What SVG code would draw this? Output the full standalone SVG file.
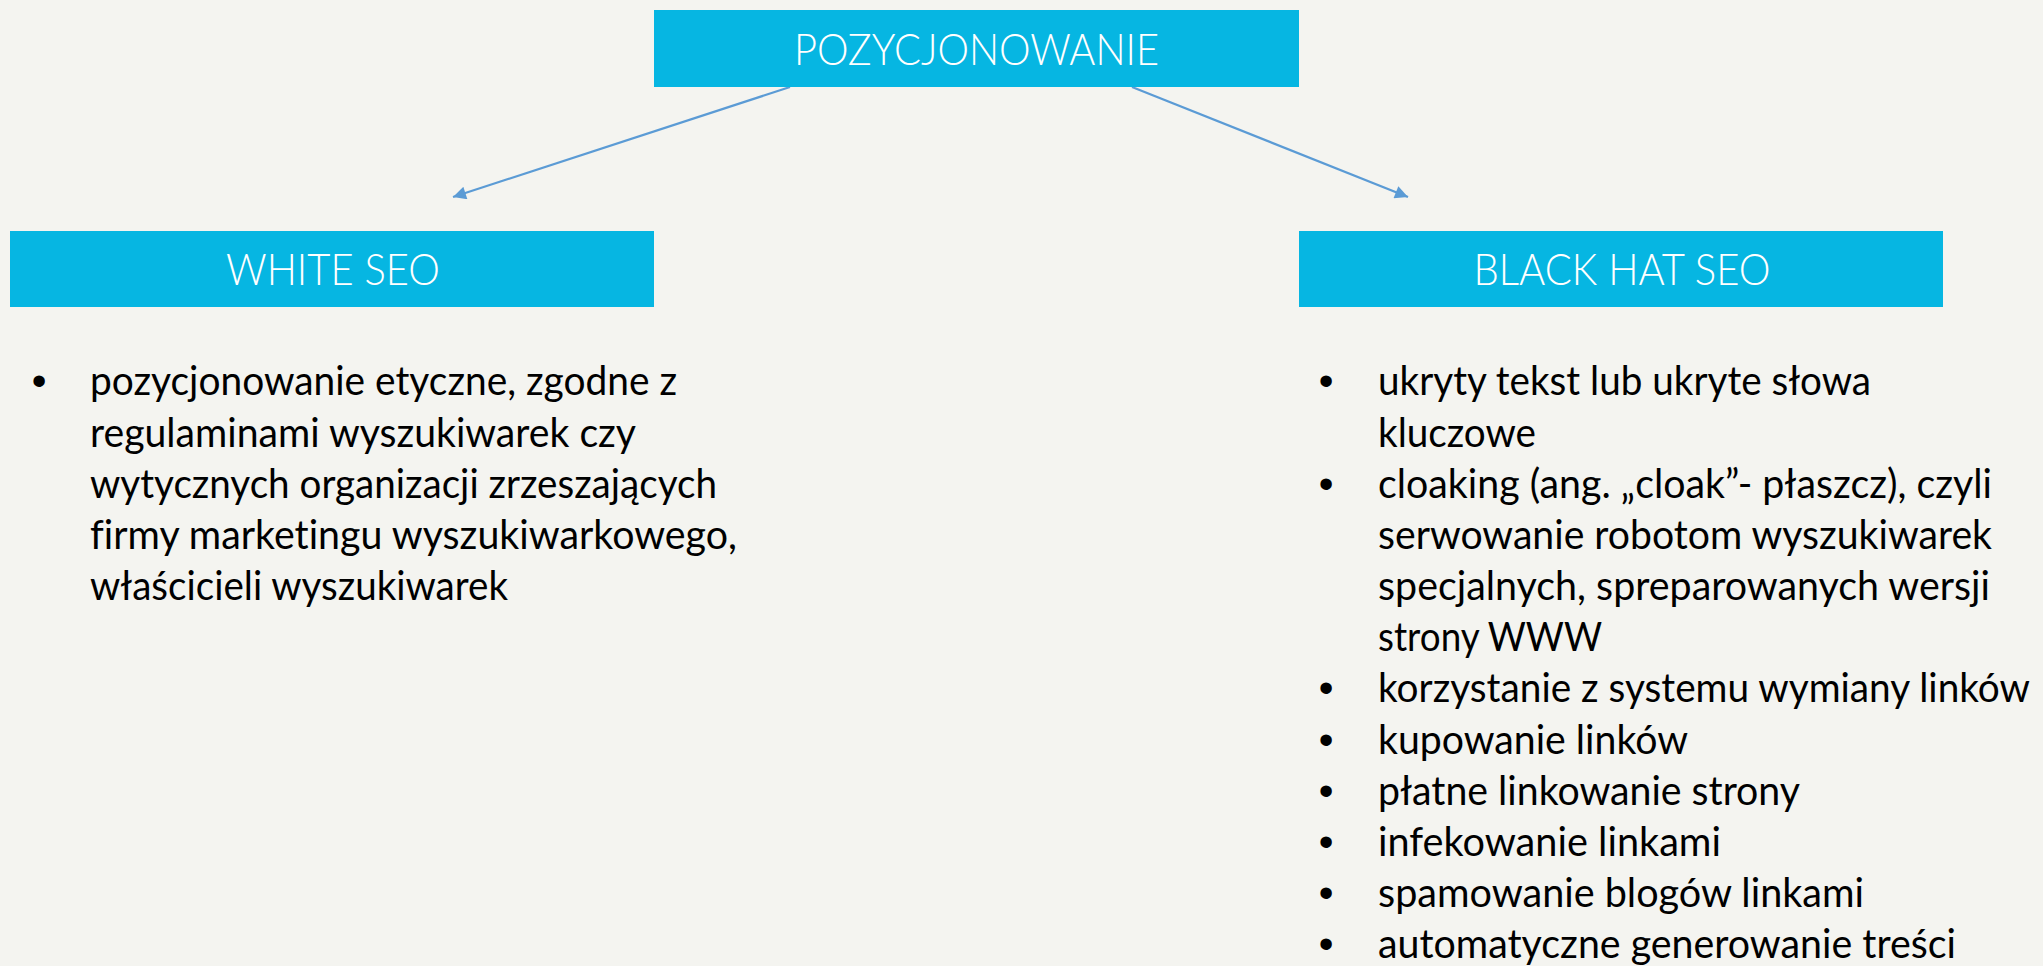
<svg xmlns="http://www.w3.org/2000/svg" width="2043" height="966" viewBox="0 0 2043 966">
  <style>
    .box { fill: #06B6E2; }
    .title { font-family: Lato, "Liberation Sans", sans-serif; font-weight: 300; font-size: 44px; fill: #FFFFFF; text-anchor: middle; }
    .body { font-family: Lato, "Liberation Sans", sans-serif; font-size: 40px; fill: #000000; font-variant-ligatures: none; }
    .bullet { font-family: "Liberation Sans", Arial, sans-serif; font-size: 42px; fill: #000000; text-anchor: middle; }
    .conn { stroke: #5B9BD5; stroke-width: 2.2; fill: none; }
  </style>
  <defs>
    <marker id="arrow" viewBox="0 0 10 10" refX="10" refY="5" markerWidth="15" markerHeight="13" markerUnits="userSpaceOnUse" orient="auto">
      <path d="M0,0 L10,5 L0,10 z" fill="#5B9BD5"/>
    </marker>
  </defs>
  <rect x="0" y="0" width="2043" height="966" fill="#F4F4F0"/>

  <g id="connectors">
    <line class="conn" x1="790" y1="87" x2="453" y2="197" marker-end="url(#arrow)"/>
    <line class="conn" x1="1132" y1="87" x2="1408" y2="197" marker-end="url(#arrow)"/>
  </g>

  <g id="pozycjonowanie">
    <rect class="box" x="654" y="10" width="645" height="77"/>
    <text class="title" x="976.5" y="65" textLength="365" lengthAdjust="spacingAndGlyphs">POZYCJONOWANIE</text>
  </g>

  <g id="white-seo">
    <rect class="box" x="10" y="231" width="644" height="76"/>
    <text class="title" x="333" y="284.5" textLength="214" lengthAdjust="spacingAndGlyphs">WHITE SEO</text>
  </g>

  <g id="black-hat-seo">
    <rect class="box" x="1299" y="231" width="644" height="76"/>
    <text class="title" x="1622" y="284.5" textLength="297" lengthAdjust="spacingAndGlyphs">BLACK HAT SEO</text>
  </g>

  <g id="white-seo-list">
    <text class="bullet" x="39" y="395.4">•</text>
    <text class="body" x="90" y="395.4" textLength="587" lengthAdjust="spacingAndGlyphs">pozycjonowanie etyczne, zgodne z</text>
    <text class="body" x="90" y="446.6" textLength="546" lengthAdjust="spacingAndGlyphs">regulaminami wyszukiwarek czy</text>
    <text class="body" x="90" y="497.7" textLength="627" lengthAdjust="spacingAndGlyphs">wytycznych organizacji zrzeszających</text>
    <text class="body" x="90" y="548.9" textLength="647" lengthAdjust="spacingAndGlyphs">firmy marketingu wyszukiwarkowego,</text>
    <text class="body" x="90" y="600" textLength="418" lengthAdjust="spacingAndGlyphs">właścicieli wyszukiwarek</text>
  </g>

  <g id="black-hat-seo-list">
    <text class="bullet" x="1326" y="395.4">•</text>
    <text class="body" x="1378" y="395.4" textLength="493" lengthAdjust="spacingAndGlyphs">ukryty tekst lub ukryte słowa</text>
    <text class="body" x="1378" y="446.6" textLength="158" lengthAdjust="spacingAndGlyphs">kluczowe</text>
    <text class="bullet" x="1326" y="497.7">•</text>
    <text class="body" x="1378" y="497.7" textLength="614" lengthAdjust="spacingAndGlyphs">cloaking (ang. „cloak”- płaszcz), czyli</text>
    <text class="body" x="1378" y="548.9" textLength="614" lengthAdjust="spacingAndGlyphs">serwowanie robotom wyszukiwarek</text>
    <text class="body" x="1378" y="600" textLength="612" lengthAdjust="spacingAndGlyphs">specjalnych, spreparowanych wersji</text>
    <text class="body" x="1378" y="651.2" textLength="224" lengthAdjust="spacingAndGlyphs">strony WWW</text>
    <text class="bullet" x="1326" y="702.3">•</text>
    <text class="body" x="1378" y="702.3" textLength="652" lengthAdjust="spacingAndGlyphs">korzystanie z systemu wymiany linków</text>
    <text class="bullet" x="1326" y="753.5">•</text>
    <text class="body" x="1378" y="753.5" textLength="310" lengthAdjust="spacingAndGlyphs">kupowanie linków</text>
    <text class="bullet" x="1326" y="804.6">•</text>
    <text class="body" x="1378" y="804.6" textLength="422" lengthAdjust="spacingAndGlyphs">płatne linkowanie strony</text>
    <text class="bullet" x="1326" y="855.8">•</text>
    <text class="body" x="1378" y="855.8" textLength="343" lengthAdjust="spacingAndGlyphs">infekowanie linkami</text>
    <text class="bullet" x="1326" y="906.9">•</text>
    <text class="body" x="1378" y="906.9" textLength="486" lengthAdjust="spacingAndGlyphs">spamowanie blogów linkami</text>
    <text class="bullet" x="1326" y="958.1">•</text>
    <text class="body" x="1378" y="958.1" textLength="578" lengthAdjust="spacingAndGlyphs">automatyczne generowanie treści</text>
  </g>
</svg>
